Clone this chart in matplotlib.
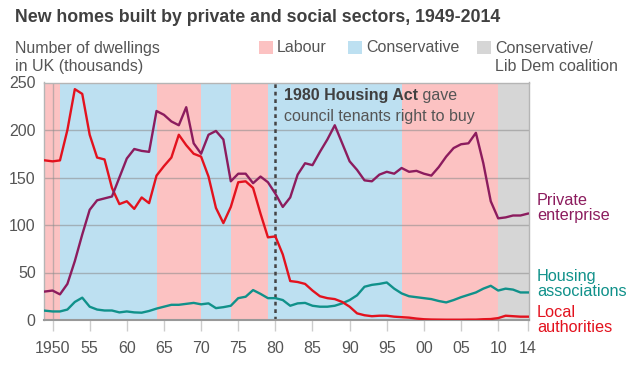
import matplotlib
matplotlib.use('Agg')
import matplotlib.pyplot as plt
from matplotlib.patches import Rectangle

plt.rcParams['font.family'] = ['Liberation Sans', 'DejaVu Sans']

years = list(range(1949, 2015))

# thousands of dwellings
private = [30, 31, 27, 38, 62, 90, 116, 126, 128, 130,
           150, 170, 180, 178, 177, 220, 216, 209, 205, 224,
           186, 175, 195, 199, 190, 146, 154, 154, 144, 151,
           145, 133, 119, 129, 153, 165, 163, 177, 190, 205,
           186, 167, 158, 147, 146, 153, 156, 154, 160, 156,
           157, 154, 152, 161, 172, 181, 185, 186, 197, 165,
           125, 107, 108, 110, 110, 112]
local = [168, 167, 168, 200, 243, 238, 195, 171, 169, 139,
         122, 125, 117, 129, 123, 152, 162, 171, 195, 184,
         175, 172, 151, 118, 102, 119, 145, 146, 139, 112,
         87, 88, 69, 41, 40, 38, 31, 25, 23, 22,
         19, 14, 7, 5, 4, 4.5, 4.5, 3.5, 3, 2.5,
         1.5, 0.8, 0.5, 0.4, 0.3, 0.3, 0.3, 0.4, 0.4, 0.8,
         1, 2, 4.5, 4, 3.5, 3.5]
housing = [9.8, 9, 9, 11, 19, 23.5, 14, 11, 10, 10,
           8, 9, 8, 7.7, 9.5, 12, 14, 16, 16, 17,
           18, 16.5, 17.5, 12.5, 13.5, 15, 23, 24.5, 31.5, 27.5,
           23, 23, 21, 15, 17.5, 18, 15, 14, 14, 15,
           17.5, 21, 26, 35, 37, 38, 39.5, 33, 28, 25,
           24, 23, 22, 20, 18.5, 21, 24, 26.5, 29, 33,
           36, 31, 33, 32, 29, 29]

# governments: (start, end, party)
govts = [(1945, 1951, 'Labour'), (1951, 1964, 'Conservative'),
         (1964, 1970, 'Labour'), (1970, 1974, 'Conservative'),
         (1974, 1979, 'Labour'), (1979, 1997, 'Conservative'),
         (1997, 2010, 'Labour'), (2010, 2020, 'Coalition')]

xticks = [1950, 1955, 1960, 1965, 1970, 1975, 1980, 1985, 1990, 1995, 2000, 2005, 2010, 2014]
xlabels = ['1950', '55', '60', '65', '70', '75', '80', '85', '90', '95', '00', '05', '10', '14']

party_col = {'Labour': '#fcc2c2', 'Conservative': '#bde0f1', 'Coalition': '#d6d6d6'}
c_priv = '#8c1c5e'
c_local = '#e3121e'
c_house = '#10918a'
grey_txt = '#555555'
fs = 11.5

W, H = 642, 371
fig = plt.figure(figsize=(W / 100, H / 100), dpi=100)
ax = fig.add_axes([44 / W, 1 - 320 / H, 485 / W, 237.5 / H])

for s, e, p in govts:
    ax.axvspan(s, e, color=party_col[p], lw=0, zorder=0)

ax.axvline(1950, color='#999999', lw=1, alpha=0.6, zorder=1)
for y in [50, 100, 150, 200]:
    ax.axhline(y, color='#8a8a8a', lw=1, alpha=0.55, zorder=1)

ax.axvline(1980, color='#444444', lw=1.8, ls=(0, (1.5, 1.5)), zorder=2)

ax.plot(years, housing, color=c_house, lw=1.7, zorder=3)
ax.plot(years, local, color=c_local, lw=1.7, zorder=3)
ax.plot(years, private, color=c_priv, lw=1.7, zorder=4)

ax.set_xlim(1948.85, 2014.15)
ax.set_ylim(0, 250)
ax.set_yticks([0, 50, 100, 150, 200, 250])
ax.set_xticks(xticks)
ax.set_xticklabels(xlabels)
ax.tick_params(axis='y', length=0, pad=6, labelsize=fs, labelcolor=grey_txt)
ax.tick_params(axis='x', length=8, width=1, color='#cccccc', pad=7,
               labelsize=fs, labelcolor=grey_txt)
for sp in ax.spines.values():
    sp.set_color('#b5b5b5')
    sp.set_linewidth(1)
ax.spines['bottom'].set_color('#999999')
ax.spines['bottom'].set_linewidth(1.5)

# annotation
t1 = ax.text(1981.2, 235.8, '1980 Housing Act', fontsize=fs, fontweight='bold',
             color='#404040', va='center', ha='left')
ax.annotate(' gave', xy=(1, 0.5), xycoords=t1, fontsize=fs, color=grey_txt,
            va='center', ha='left')
ax.text(1981.2, 214.7, 'council tenants right to buy', fontsize=fs,
        color=grey_txt, va='center', ha='left')

# right labels
fig.text(537 / W, 1 - 208 / H, 'Private\nenterprise', color=c_priv, fontsize=11.7,
         va='center', ha='left', linespacing=0.98)
fig.text(537 / W, 1 - 284 / H, 'Housing\nassociations', color=c_house, fontsize=11.7,
         va='center', ha='left', linespacing=0.98)
fig.text(537 / W, 1 - 320 / H, 'Local\nauthorities', color=c_local, fontsize=11.7,
         va='center', ha='left', linespacing=0.98)

# titles
fig.text(15 / W, 1 - 18 / H, 'New homes built by private and social sectors, 1949-2014',
         fontsize=12.8, fontweight='bold', color='#404040', va='center', ha='left')
fig.text(15 / W, 1 - 57.5 / H, 'Number of dwellings\nin UK (thousands)', fontsize=fs,
         color=grey_txt, va='center', ha='left', linespacing=1.28)

# legend
leg = [(259, 'Labour', 'Labour'), (348, 'Conservative', 'Conservative'),
       (477, 'Coalition', 'Conservative/\nLib Dem coalition')]
for x0, p, lab in leg:
    fig.add_artist(Rectangle((x0 / W, 1 - 54 / H), 14 / W, 13 / H,
                             transform=fig.transFigure, color=party_col[p], lw=0))
    if '\n' in lab:
        fig.text((x0 + 18) / W, 1 - 57.5 / H, lab, fontsize=fs, color=grey_txt,
                 va='center', ha='left', linespacing=1.28)
    else:
        fig.text((x0 + 18) / W, 1 - 47.5 / H, lab, fontsize=fs, color=grey_txt,
                 va='center', ha='left')

fig.savefig('out.png', dpi=100)
